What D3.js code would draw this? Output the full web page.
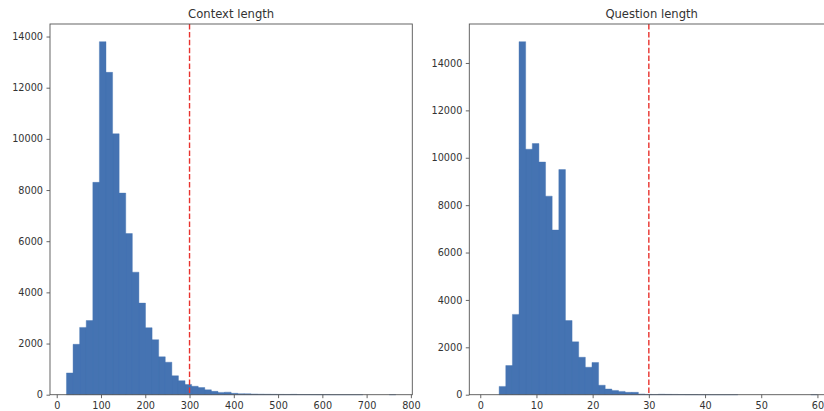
<!DOCTYPE html>
<html>
<head>
<meta charset="utf-8">
<script src="https://cdn.jsdelivr.net/npm/d3@7"></script>
<style>
  body { margin: 0; background: #fff; overflow: hidden; }
  svg { display: block; font-family: "DejaVu Sans", sans-serif; }
</style>
</head>
<body>
<svg width="824" height="411"></svg>
<script>
// histogram counts, 50 bins each
const contextCounts = [850, 1970, 2630, 2900, 8300, 13800, 12600, 10200, 7880, 6300,
  4790, 3580, 2620, 2150, 1480, 1270, 740, 550, 400, 330,
  280, 190, 130, 90, 100, 55, 40, 35, 28, 22,
  18, 15, 12, 10, 14, 8, 7, 5, 4, 3,
  2, 2, 1, 1, 1, 0, 0, 0, 0, 1];
const contextRange = [22, 766];
const contextCut = 300;
const contextXTicks = [0, 100, 200, 300, 400, 500, 600, 700, 800];

const questionCounts = [0, 0, 350, 1230, 3390, 14900, 10360, 10600, 9820, 8380,
  6950, 9500, 3130, 2230, 1580, 1160, 1360, 400, 240, 180,
  140, 100, 100, 30, 15, 10, 20, 15, 12, 8,
  5, 4, 3, 2, 2, 1, 1, 1, 0, 0,
  0, 0, 0, 0, 0, 0, 0, 0, 0, 1];
const questionRange = [1, 60];
const questionCut = 30;
const questionXTicks = [0, 10, 20, 30, 40, 50, 60];

const yTicks = [0, 2000, 4000, 6000, 8000, 10000, 12000, 14000];

const BAR = "#4573b2";
const svg = d3.select("svg");

function drawHist(opt) {
  const {title, counts, range, cut, xTicks, left, right, top, bottom} = opt;
  const g = svg.append("g");

  const n = counts.length;
  const w = (range[1] - range[0]) / n;
  const bins = counts.map((c, i) => ({x0: range[0] + i * w, x1: range[0] + (i + 1) * w, count: c}));

  const pad = (range[1] - range[0]) * 0.05;
  const x = d3.scaleLinear().domain([range[0] - pad, range[1] + pad]).range([left, right]);
  const y = d3.scaleLinear().domain([0, d3.max(counts) * 1.05]).range([bottom, top]);

  // bars as one path so neighbours don't show seams
  const path = d3.path();
  bins.forEach(d => {
    if (!d.count) return;
    path.rect(x(d.x0), y(d.count), x(d.x1) - x(d.x0), y(0) - y(d.count));
  });
  g.append("path")
    .attr("d", path.toString())
    .attr("fill", BAR)
    .attr("stroke", BAR)
    .attr("stroke-width", 0.4);

  // red cutoff
  g.append("line")
    .attr("x1", x(cut)).attr("x2", x(cut))
    .attr("y1", top).attr("y2", bottom)
    .attr("stroke", "#e8322e")
    .attr("stroke-width", 1.4)
    .attr("stroke-dasharray", "5.5,2.4");

  // frame
  g.append("rect")
    .attr("x", left).attr("y", top)
    .attr("width", right - left).attr("height", bottom - top)
    .attr("fill", "none")
    .attr("stroke", "#555")
    .attr("stroke-width", 0.9);

  const xAxis = g.append("g")
    .attr("transform", `translate(0,${bottom})`)
    .call(d3.axisBottom(x).tickValues(xTicks).tickSize(3.5).tickPadding(3.5).tickSizeOuter(0));
  const yAxis = g.append("g")
    .attr("transform", `translate(${left},0)`)
    .call(d3.axisLeft(y).tickValues(yTicks).tickFormat(d3.format("d")).tickSize(3.5).tickPadding(3.5).tickSizeOuter(0));

  [xAxis, yAxis].forEach(a => {
    a.select(".domain").remove();
    a.selectAll(".tick line").attr("stroke", "#555").attr("stroke-width", 0.9);
    a.selectAll(".tick text")
      .attr("fill", "#333")
      .style("font-size", "9.7px")
      .style("font-family", "DejaVu Sans");
  });

  g.append("text")
    .attr("x", (left + right) / 2)
    .attr("y", 17.5)
    .attr("text-anchor", "middle")
    .attr("fill", "#333")
    .style("font-size", "11.6px")
    .text(title);
}

drawHist({title: "Context length", counts: contextCounts, range: contextRange, cut: contextCut,
  xTicks: contextXTicks, left: 50, right: 412.3, top: 24, bottom: 394.7});
drawHist({title: "Question length", counts: questionCounts, range: questionRange, cut: questionCut,
  xTicks: questionXTicks, left: 469.3, right: 834, top: 24, bottom: 394.7});
</script>
</body>
</html>
